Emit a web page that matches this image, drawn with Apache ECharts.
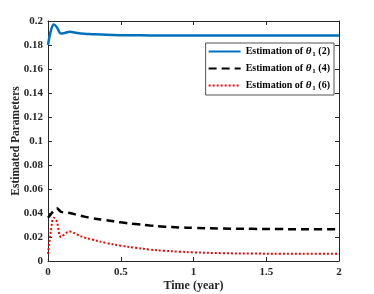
<!DOCTYPE html>
<html><head><meta charset="utf-8">
<script src="https://cdn.jsdelivr.net/npm/echarts@6/dist/echarts.min.js"></script>
<style>html,body{margin:0;padding:0;background:#fff}#c{width:374px;height:294px}</style>
</head><body><div id="c"></div>
<script>
const tX = [0, 0.02, 0.04, 0.06, 0.09, 0.12, 0.15, 0.2, 0.25, 0.3, 0.4, 0.5, 0.6, 0.7, 0.8, 0.9, 1.0, 1.2, 1.4, 1.6, 1.8, 2.0];
const s2 = [0.180, 0.192, 0.197, 0.195, 0.1895, 0.1902, 0.191, 0.1900, 0.1893, 0.1890, 0.1885, 0.1882, 0.1881, 0.1880, 0.1880, 0.1880, 0.1880, 0.1880, 0.1880, 0.1880, 0.1880, 0.1880];
const s4 = [0.036, 0.039, 0.042, 0.044, 0.041, 0.0405, 0.040, 0.0385, 0.037, 0.0358, 0.0340, 0.0322, 0.0308, 0.0296, 0.0286, 0.0280, 0.0276, 0.0270, 0.0268, 0.0266, 0.0265, 0.0265];
const s6 = [0.006, 0.025, 0.036, 0.033, 0.020, 0.023, 0.0245, 0.0220, 0.0195, 0.0180, 0.0150, 0.0128, 0.0110, 0.0095, 0.0085, 0.0078, 0.0072, 0.0065, 0.0062, 0.0061, 0.0060, 0.0060];
const names = ['Estimation of θ1 (2)', 'Estimation of θ1 (4)', 'Estimation of θ1 (6)'];
const xTicks = {min: 0, max: 2, interval: 0.5};
const yTicks = {min: 0, max: 0.2, interval: 0.02};
const pairs = a => tX.map((x, i) => [x, a[i]]);
const font = 'Liberation Serif';
const chart = echarts.init(document.getElementById('c'));
const axisCommon = {
  axisLine: {show: true, onZero: false, lineStyle: {color: '#262626', width: 1}},
  axisTick: {show: true, inside: true, length: 4, lineStyle: {color: '#262626'}},
  splitLine: {show: false}
};
chart.setOption({
  animation: false,
  grid: {left: 48, right: 35, top: 21, bottom: 33, containLabel: false, outerBoundsMode: 'none'},
  xAxis: [
    Object.assign({type: 'value', min: xTicks.min, max: xTicks.max, interval: xTicks.interval,
      name: 'Time (year)', nameLocation: 'middle', nameGap: 19, nameMoveOverlap: false,
      nameTextStyle: {fontFamily: font, fontWeight: 'bold', fontSize: 12, color: '#262626'},
      axisLabel: {fontFamily: font, fontWeight: 'bold', fontSize: 11, color: '#262626', margin: 6}}, axisCommon),
    Object.assign({type: 'value', position: 'top', min: xTicks.min, max: xTicks.max, interval: xTicks.interval,
      axisLabel: {show: false}}, axisCommon)
  ],
  yAxis: [
    Object.assign({type: 'value', min: yTicks.min, max: yTicks.max, interval: yTicks.interval,
      name: 'Estimated Parameters', nameLocation: 'middle', nameGap: 26, nameMoveOverlap: false,
      nameTextStyle: {fontFamily: font, fontWeight: 'bold', fontSize: 11.5, color: '#262626'},
      axisLabel: {fontFamily: font, fontWeight: 'bold', fontSize: 11, color: '#262626', margin: 5}}, axisCommon),
    Object.assign({type: 'value', position: 'right', min: yTicks.min, max: yTicks.max, interval: yTicks.interval,
      axisLabel: {show: false}}, axisCommon)
  ],
  legend: {
    right: 40, top: 43, orient: 'vertical', itemGap: 5, itemWidth: 32, itemHeight: 10,
    padding: [3, 4, 3, 2],
    backgroundColor: '#fff', borderColor: '#262626', borderWidth: 0.8, borderRadius: 0,
    itemStyle: {opacity: 0},
    formatter: function (n) { return n.replace('θ1', '{t|θ}{s|1}'); },
    textStyle: {fontFamily: font, fontWeight: 'bold', fontSize: 10, color: '#000',
      rich: {t: {fontFamily: font, fontStyle: 'italic', fontWeight: 'bold', fontSize: 11},
             s: {fontFamily: font, fontWeight: 'bold', fontSize: 7, verticalAlign: 'bottom', padding: [6, 0, 0, 1]}}},
    data: names
  },
  series: [
    {name: names[0], type: 'line', data: pairs(s2), smooth: 0.4, symbol: 'none', lineStyle: {color: '#0072BD', width: 2.5}, itemStyle: {color: '#0072BD'}},
    {name: names[1], type: 'line', data: pairs(s4), smooth: 0.4, symbol: 'none', lineStyle: {color: '#000', width: 2.5, type: [8, 5]}, itemStyle: {color: '#000'}},
    {name: names[2], type: 'line', data: pairs(s6), smooth: 0.4, symbol: 'none', lineStyle: {color: '#ff0000', width: 2, type: [2, 2]}, itemStyle: {color: '#ff0000'}}
  ]
});
</script></body></html>
